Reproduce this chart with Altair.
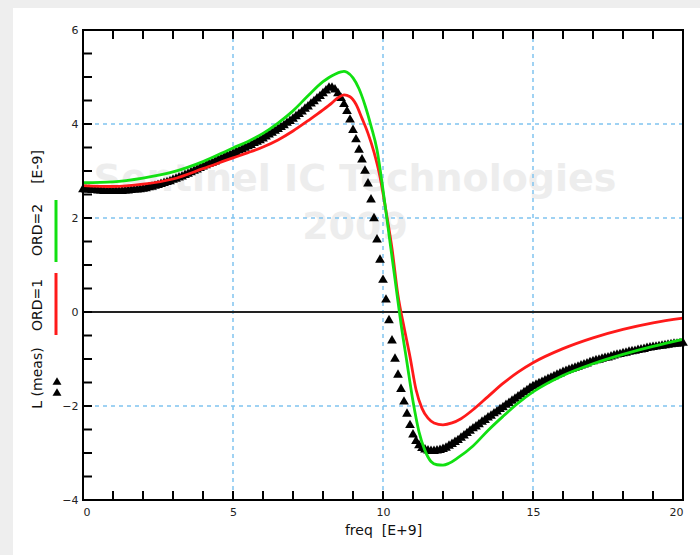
import altair as alt
import pandas as pd

# ---------------- data ----------------
# measured L (triangles), sampled every 0.1 GHz from 0 to 20
freq_meas = [round(i * 0.1, 1) for i in range(201)]
L_meas = [
    2.64, 2.63, 2.63, 2.62, 2.62, 2.61, 2.61, 2.60, 2.60, 2.60,
    2.60, 2.60, 2.60, 2.60, 2.61, 2.61, 2.62, 2.63, 2.63, 2.64,
    2.65, 2.66, 2.68, 2.69, 2.71, 2.73, 2.75, 2.77, 2.79, 2.81,
    2.84, 2.86, 2.89, 2.91, 2.94, 2.97, 3.00, 3.03, 3.06, 3.09,
    3.12, 3.15, 3.18, 3.20, 3.23, 3.26, 3.29, 3.32, 3.35, 3.37,
    3.40, 3.43, 3.46, 3.49, 3.52, 3.55, 3.58, 3.62, 3.65, 3.68,
    3.72, 3.76, 3.80, 3.84, 3.88, 3.92, 3.96, 4.00, 4.05, 4.09,
    4.14, 4.19, 4.24, 4.29, 4.35, 4.40, 4.46, 4.51, 4.57, 4.62,
    4.68, 4.74, 4.80, 4.80, 4.76, 4.68, 4.58, 4.45, 4.30, 4.12,
    3.90, 3.70, 3.48, 3.27, 3.03, 2.76, 2.42, 2.02, 1.57, 1.14,
    0.71, 0.29, -0.15, -0.58, -0.97, -1.31, -1.61, -1.88, -2.14, -2.38,
    -2.58, -2.72, -2.81, -2.87, -2.90, -2.92, -2.93, -2.93, -2.92, -2.91,
    -2.89, -2.86, -2.82, -2.78, -2.74, -2.70, -2.65, -2.60, -2.55, -2.50,
    -2.45, -2.41, -2.36, -2.31, -2.27, -2.22, -2.18, -2.13, -2.09, -2.04,
    -2.00, -1.95, -1.91, -1.86, -1.82, -1.77, -1.73, -1.68, -1.64, -1.59,
    -1.55, -1.52, -1.49, -1.46, -1.43, -1.40, -1.37, -1.34, -1.31, -1.28,
    -1.25, -1.23, -1.20, -1.18, -1.16, -1.14, -1.11, -1.09, -1.07, -1.04,
    -1.02, -1.00, -0.99, -0.97, -0.95, -0.94, -0.92, -0.90, -0.88, -0.87,
    -0.85, -0.84, -0.82, -0.81, -0.80, -0.78, -0.77, -0.76, -0.74, -0.73,
    -0.72, -0.71, -0.70, -0.69, -0.68, -0.67, -0.66, -0.65, -0.65, -0.64,
    -0.63,
]

# model ORD=1 (red)
freq_ord1 = [0, 1, 2, 3, 4, 5, 5.5, 6, 6.5, 7, 7.5, 8, 8.3, 8.5, 8.7, 8.9, 9.1,
             9.3, 9.5, 9.7, 9.9, 10.1, 10.3, 10.5, 10.7, 10.9, 11.1, 11.3, 11.5,
             11.7, 12.0, 12.3, 12.6, 13, 13.5, 14, 14.5, 15, 16, 17, 18, 19, 20]
L_ord1 = [2.69, 2.67, 2.72, 2.83, 3.05, 3.28, 3.39, 3.51, 3.66, 3.85, 4.07, 4.30,
          4.45, 4.56, 4.62, 4.58, 4.42, 4.12, 3.80, 3.40, 2.88, 2.15, 1.35, 0.35,
          -0.32, -0.95, -1.65, -2.05, -2.26, -2.36, -2.40, -2.36, -2.27, -2.08,
          -1.80, -1.52, -1.28, -1.08, -0.78, -0.55, -0.37, -0.23, -0.13]

# model ORD=2 (green)
freq_ord2 = [0, 1, 2, 3, 4, 5, 5.5, 6, 6.5, 7, 7.5, 8, 8.2, 8.4, 8.6, 8.7, 8.8,
             9.0, 9.2, 9.4, 9.6, 9.8, 10.0, 10.2, 10.4, 10.6, 10.8, 11.0, 11.2,
             11.4, 11.6, 11.8, 12.0, 12.2, 12.5, 13, 13.5, 14, 14.5, 15, 16, 17,
             18, 19, 20]
L_ord2 = [2.75, 2.77, 2.85, 2.98, 3.20, 3.49, 3.63, 3.80, 4.02, 4.28, 4.60, 4.90,
          4.99, 5.06, 5.11, 5.12, 5.10, 4.98, 4.75, 4.40, 3.96, 3.45, 2.60, 1.65,
          0.70, -0.25, -1.08, -1.90, -2.55, -2.95, -3.18, -3.25, -3.26, -3.22,
          -3.10, -2.85, -2.52, -2.22, -1.94, -1.70, -1.35, -1.10, -0.90, -0.73,
          -0.58]

x_labels = [0, 5, 10, 15, 20]
y_labels = [-4, -2, 0, 2, 4, 6]
x_grid = [5, 10, 15]
y_grid = [-2, 2, 4]
x_ticks = list(range(1, 20))
y_ticks = [-3.5, -3, -2.5, -2, -1.5, -1, -0.5, 0, 0.5, 1, 1.5, 2, 2.5, 3, 3.5,
           4, 4.5, 5, 5.5]

# --------------- chart ----------------
W, H = 600, 470
FONT = "DejaVu Sans"

xs = alt.Scale(domain=[0, 20], nice=False, zero=False)
ys = alt.Scale(domain=[-4, 6], nice=False, zero=False)

one = pd.DataFrame({"k": [0]})
meas_df = pd.DataFrame({"f": freq_meas, "L": L_meas})
o1_df = pd.DataFrame({"f": freq_ord1, "L": L_ord1})
o2_df = pd.DataFrame({"f": freq_ord2, "L": L_ord2})

panel = alt.Chart(one).mark_rect(color="white").encode(
    x=alt.value(-70), x2=alt.value(617), y=alt.value(-22), y2=alt.value(525)
)

wm1 = alt.Chart(one).mark_text(
    text="Sentinel IC Technologies", font=FONT, fontSize=38, fontWeight="bold",
    color="#ededed", align="center", baseline="middle"
).encode(x=alt.value(272), y=alt.value(150))
wm2 = alt.Chart(one).mark_text(
    text="2009", font=FONT, fontSize=38, fontWeight="bold",
    color="#ededed", align="center", baseline="middle"
).encode(x=alt.value(272), y=alt.value(198))

axes = alt.Chart(one).mark_point(opacity=0).encode(
    x=alt.X("k:Q", scale=xs, title="freq\u00a0 [E+9]",
            axis=alt.Axis(values=x_labels, grid=False, domain=False, tickSize=0,
                          labelPadding=6, labelFont=FONT, labelFontSize=11,
                          labelColor="#222", titleFont=FONT, titleFontSize=14,
                          titleFontWeight="normal", titleColor="#111",
                          titlePadding=6, zindex=2)),
    y=alt.Y("k:Q", scale=ys, title=None,
            axis=alt.Axis(values=y_labels, grid=False, domain=False, tickSize=0,
                          labelPadding=5, labelFont=FONT, labelFontSize=11,
                          labelColor="#222", zindex=2)),
)

gx = alt.Chart(pd.DataFrame({"g": x_grid})).mark_rule(
    color="#80c4f0", strokeDash=[4, 4], strokeWidth=1.5
).encode(x=alt.X("g:Q", scale=xs))
gy = alt.Chart(pd.DataFrame({"g": y_grid})).mark_rule(
    color="#80c4f0", strokeDash=[4, 4], strokeWidth=1.5
).encode(y=alt.Y("g:Q", scale=ys))

zero = alt.Chart(one).mark_rule(color="#222", strokeWidth=2).encode(
    y=alt.datum(0, scale=ys)
)

meas = alt.Chart(meas_df).mark_point(
    shape="triangle-up", filled=True, color="black", size=95, opacity=1
).encode(x=alt.X("f:Q", scale=xs), y=alt.Y("L:Q", scale=ys))

ord1 = alt.Chart(o1_df).mark_line(color="#ff1a1a", strokeWidth=2.8,
                                  interpolate="monotone").encode(
    x=alt.X("f:Q", scale=xs), y=alt.Y("L:Q", scale=ys))
ord2 = alt.Chart(o2_df).mark_line(color="#11e011", strokeWidth=2.8,
                                  interpolate="monotone").encode(
    x=alt.X("f:Q", scale=xs), y=alt.Y("L:Q", scale=ys))

xt = pd.DataFrame({"t": x_ticks})
yt = pd.DataFrame({"t": y_ticks})
tick_b = alt.Chart(xt).mark_rule(color="black", strokeWidth=2).encode(
    x=alt.X("t:Q", scale=xs), y=alt.value(H), y2=alt.value(H - 9))
tick_t = alt.Chart(xt).mark_rule(color="black", strokeWidth=2).encode(
    x=alt.X("t:Q", scale=xs), y=alt.value(0), y2=alt.value(9))
tick_l = alt.Chart(yt).mark_rule(color="black", strokeWidth=2).encode(
    y=alt.Y("t:Q", scale=ys), x=alt.value(0), x2=alt.value(9))

frame = alt.Chart(one).mark_rect(filled=False, stroke="black", strokeWidth=2).encode(
    x=alt.value(0), x2=alt.value(W), y=alt.value(0), y2=alt.value(H))

# left-side legend (rotated)
def vtext(t, y):
    return alt.Chart(one).mark_text(
        text=t, angle=270, font=FONT, fontSize=14, color="#111",
        align="center", baseline="middle"
    ).encode(x=alt.value(-45), y=alt.value(y))

leg_meas = vtext("L (meas)", 348)
leg_o1 = vtext("ORD=1", 275)
leg_o2 = vtext("ORD=2", 200)
leg_unit = vtext("[E-9]", 137)
leg_red = alt.Chart(one).mark_rule(color="#ff1a1a", strokeWidth=3).encode(
    x=alt.value(-27), y=alt.value(243), y2=alt.value(305))
leg_green = alt.Chart(one).mark_rule(color="#11e011", strokeWidth=3).encode(
    x=alt.value(-27), y=alt.value(170), y2=alt.value(232))
leg_tri1 = alt.Chart(one).mark_point(
    shape="triangle-up", filled=True, color="black", size=80, opacity=1
).encode(x=alt.value(-26), y=alt.value(351))
leg_tri2 = alt.Chart(one).mark_point(
    shape="triangle-up", filled=True, color="black", size=80, opacity=1
).encode(x=alt.value(-26), y=alt.value(362))

chart = alt.layer(
    panel, wm1, wm2, axes, gx, gy, zero, meas, ord1, ord2,
    tick_b, tick_t, tick_l, frame,
    leg_meas, leg_o1, leg_o2, leg_unit, leg_red, leg_green, leg_tri1, leg_tri2,
).properties(
    width=W, height=H,
    autosize=alt.AutoSizeParams(type="none"),
    padding={"left": 83, "top": 30, "right": 17, "bottom": 55},
    background="#eeeeee",
).configure_view(strokeWidth=0)

chart.save("out.html", embed_options={"renderer": "svg", "actions": False})
